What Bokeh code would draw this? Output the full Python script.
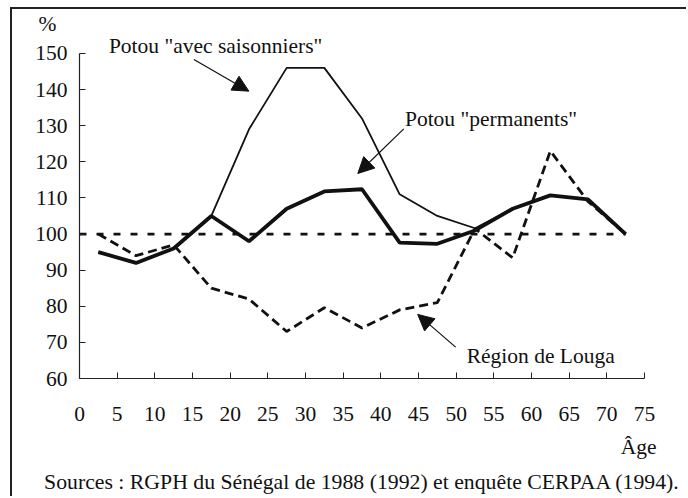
from bokeh.plotting import figure
from bokeh.models import Label, Arrow, NormalHead, Range1d, FixedTicker, Title
from bokeh.embed import file_html
from bokeh.resources import INLINE

# ---- data ----
ages = [2.5, 7.5, 12.5, 17.5, 22.5, 27.5, 32.5, 37.5, 42.5, 47.5, 52.5, 57.5, 62.5, 67.5, 72.5]
louga = [100, 94, 97, 85, 82, 73, 79.6, 74, 79, 81, 101.5, 93.4, 123, 109, 100]
permanents = [95, 92, 96, 105, 98, 107, 111.8, 112.4, 97.6, 97.3, 101, 107, 110.7, 109.6, 100]
saisonniers = [95, 92, 96, 105, 129, 146, 146, 132, 111, 105, 101.6, 107, 110.7, 109.6, 100]
ref_ages = [0, 72.5]
reference = [100, 100]
x_ticks = [0, 5, 10, 15, 20, 25, 30, 35, 40, 45, 50, 55, 60, 65, 70, 75]
y_ticks = [60, 70, 80, 90, 100, 110, 120, 130, 140, 150]

FONT = "Liberation Serif"
FS = "21.5px"
INK = "#111111"

p = figure(width=676, height=489, output_backend="svg", toolbar_location=None, title=None,
           x_range=Range1d(0, 75), y_range=Range1d(60, 154.97),
           min_border_left=67, min_border_right=44, min_border_top=25, min_border_bottom=120)
p.styles = {"margin-left": "10px", "margin-top": "7px",
            "border-left": "2px solid #222222", "border-top": "2px solid #222222"}
p.outline_line_color = None
p.grid.visible = False
p.background_fill_color = "white"

for ax in (p.xaxis[0], p.yaxis[0]):
    ax.major_label_text_font = FONT
    ax.major_label_text_font_size = FS
    ax.major_label_text_color = INK
    ax.axis_line_color = "#222222"
    ax.axis_line_width = 1.2
    ax.major_tick_line_color = "#222222"
    ax.major_tick_in = 6
    ax.major_tick_out = 0
    ax.minor_tick_line_color = None

p.xaxis[0].ticker = FixedTicker(ticks=x_ticks)
p.yaxis[0].ticker = FixedTicker(ticks=y_ticks)
p.yaxis[0].bounds = (60, 150)
p.xaxis[0].major_label_standoff = 28
p.yaxis[0].major_label_standoff = 12

# series
p.line(ref_ages, reference, line_color=INK, line_width=2.8, line_dash="7 10")
p.line(ages, louga, line_color=INK, line_width=2.8, line_dash="9 5")
p.line(ages, saisonniers, line_color=INK, line_width=1.8)
p.line(ages, permanents, line_color=INK, line_width=3.8)

# in-plot labels
def lab(x, y, t):
    p.add_layout(Label(x=x, y=y, text=t, text_font=FONT, text_font_size=FS,
                       text_color=INK, text_align="left", text_baseline="middle"))

lab(3.9, 152.0, 'Potou "avec saisonniers"')
lab(43.2, 131.9, 'Potou "permanents"')
lab(51.4, 66.2, "Région de Louga")

# outside texts as titles
def title(t, place, align, offset, size=FS, standoff=0):
    p.add_layout(Title(text=t, align=align, offset=offset, text_font=FONT, text_font_size=size,
                       text_font_style="normal", text_color=INK, standoff=standoff), place)

title("%", "above", "left", -41)
title("Âge", "below", "right", -12, standoff=18)
title("Sources : RGPH du Sénégal de 1988 (1992) et enquête CERPAA (1994).", "below", "center", -7,
      size="21.75px")

def arr(x0, y0, x1, y1):
    p.add_layout(Arrow(x_start=x0, y_start=y0, x_end=x1, y_end=y1, line_width=1.2, line_color=INK,
                       end=NormalHead(size=16, fill_color=INK, line_color=INK)))

arr(15.19, 148.35, 22.48, 139.56)
arr(43.04, 129.12, 36.94, 116.76)
arr(49.93, 68.68, 44.89, 77.75)

open("out.html", "w").write(file_html(p, INLINE))
